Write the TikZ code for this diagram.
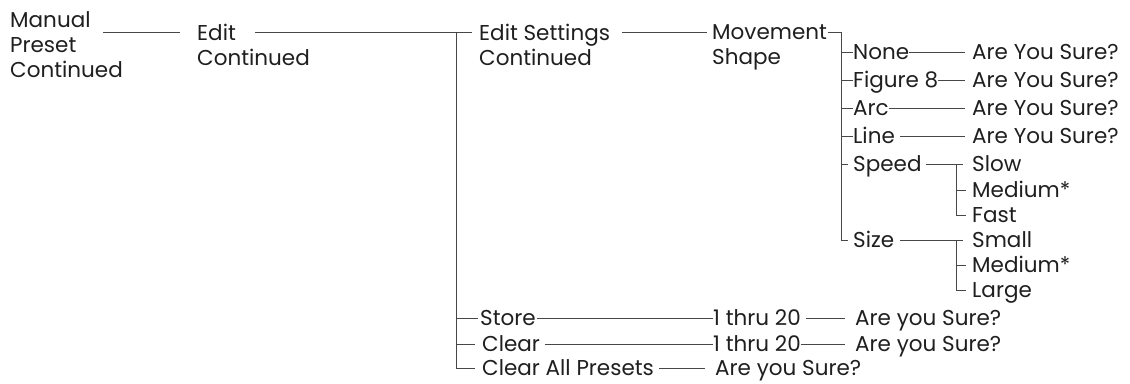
\documentclass[tikz,border=0pt]{standalone}
\usepackage{fontspec}
\setmainfont{Poppins}
\usetikzlibrary{positioning,calc}

\begin{document}
\begin{tikzpicture}[
		x=1pt, y=-1pt,
		menu_item/.style={inner sep=0pt, anchor=west, text height=15pt, text depth=0pt,
			font=\fontsize{21.5}{25}\selectfont, text=black!88},
		menu_block/.style={inner sep=0pt, anchor=north west, align=left,
			font=\fontsize{21.5}{25}\selectfont, text=black!88},
		link/.style={draw=black!72, line width=1pt}
		]
		\useasboundingbox (0,0) rectangle (1130,383);
		
		% --- TOP LEVEL MENUS ---
		\node[menu_block] (manual) at (10,11) {Manual\\Preset\\Continued};
		\node[menu_block] (edit) at (197,24) {Edit\\Continued};
		\node[menu_block] (settings) at (479,24) {Edit Settings\\Continued};
		\node[menu_block] (movement) at (712,24) {Movement\\Shape};
		
		% --- MOVEMENT SHAPE OPTIONS ---
		\node[menu_item] (none) at (853,52) {None};
		\node[menu_item] (fig8) at (853,80) {Figure 8};
		\node[menu_item] (arc) at (853,108) {Arc};
		\node[menu_item] (line_opt) at (853,136) {Line};
		\node[menu_item] (speed) at (853,164) {Speed};
		\node[menu_item] (size) at (853,240) {Size};
		
		% Confirmations
		\node[menu_item] (sure_none) at (972,52) {Are You Sure?};
		\node[menu_item] (sure_fig8) at (972,80) {Are You Sure?};
		\node[menu_item] (sure_arc) at (972,108) {Are You Sure?};
		\node[menu_item] (sure_line) at (972,136) {Are You Sure?};
		
		% Speed and Size values
		\node[menu_item] (slow) at (972,164) {Slow};
		\node[menu_item] (speed_med) at (972,190) {Medium*};
		\node[menu_item] (fast) at (972,215) {Fast};
		\node[menu_item] (small) at (972,240) {Small};
		\node[menu_item] (size_med) at (972,265) {Medium*};
		\node[menu_item] (large) at (972,290) {Large};
		
		% --- PRESET SLOTS ---
		\node[menu_item] (store) at (480,318) {Store};
		\node[menu_item] (clear) at (482,344) {Clear};
		\node[menu_item] (clear_all) at (482,368) {Clear All Presets};
		
		\node[menu_item] (thru_store) at (713,318) {1 thru 20};
		\node[menu_item] (thru_clear) at (713,344) {1 thru 20};
		
		\node[menu_item] (sure_store) at (855,318) {Are you Sure?};
		\node[menu_item] (sure_clear) at (855,344) {Are you Sure?};
		\node[menu_item] (sure_all) at (715,368) {Are you Sure?};
		
		
		% --- CONNECTIONS ---
		% 1. Manual to Edit, Edit to the main trunk
		\draw[link] ([xshift=-20pt,yshift=-8pt]manual.east |- edit.north) -- ([xshift=-17pt,yshift=-8pt]edit.north west);
		\draw[link] ([xshift=58pt,yshift=-8pt]edit.north west) -- ([xshift=-7pt,yshift=-8pt]settings.north west);
		
		\coordinate (trunk) at ([xshift=-23pt,yshift=-8pt]settings.north west);
		\draw[link] (trunk) |- ([xshift=-7pt]clear_all.west);
		\draw[link] (trunk |- store.west) -- ([xshift=-2pt]store.west);
		\draw[link] (trunk |- clear.west) -- ([xshift=-7pt]clear.west);
		
		% 2. Edit Settings to Movement Shape
		\draw[link] ([xshift=12pt,yshift=-8pt]settings.north east) -- ([xshift=-5pt,yshift=-8pt]movement.north west);
		
		% 3. Movement Shape bus
		\coordinate (shape_bus) at ([xshift=-12pt]none.west);
		\draw[link] ([xshift=1pt,yshift=-8pt]movement.north east) -| (shape_bus |- size.west) -- ([xshift=-5pt]size.west);
		\draw[link] (shape_bus |- none.west) -- (none.west);
		\draw[link] (shape_bus |- fig8.west) -- (fig8.west);
		\draw[link] (shape_bus |- arc.west) -- (arc.west);
		\draw[link] (shape_bus |- line_opt.west) -- (line_opt.west);
		\draw[link] (shape_bus |- speed.west) -- ([xshift=-5pt]speed.west);
		
		% 4. Options to confirmations
		\draw[link] (none.east) -- ([xshift=-7pt]sure_none.west);
		\draw[link] (fig8.east) -- ([xshift=-7pt]sure_fig8.west);
		\draw[link] (arc.east) -- ([xshift=-7pt]sure_arc.west);
		\draw[link] ([xshift=5pt]line_opt.east) -- ([xshift=-7pt]sure_line.west);
		
		% 5. Speed values
		\coordinate (speed_bus) at ([xshift=-16pt]slow.west);
		\draw[link] ([xshift=4pt]speed.east) -- ([xshift=-9pt]slow.west);
		\draw[link] (speed_bus) |- ([xshift=-6pt]fast.west);
		\draw[link] (speed_bus |- speed_med.west) -- ([xshift=-6pt]speed_med.west);
		
		% 6. Size values
		\coordinate (size_bus) at ([xshift=-16pt]small.west);
		\draw[link] ([xshift=6pt]size.east) -- ([xshift=-9pt]small.west);
		\draw[link] (size_bus) |- ([xshift=-6pt]large.west);
		\draw[link] (size_bus |- size_med.west) -- ([xshift=-6pt]size_med.west);
		
		% 7. Store / Clear chains
		\draw[link] ([xshift=1pt]store.east) -- (thru_store.west);
		\draw[link] ([xshift=5pt]thru_store.east) -- ([xshift=-10pt]sure_store.west);
		\draw[link] ([xshift=5pt]clear.east) -- (thru_clear.west);
		\draw[link] (thru_clear.east) -- ([xshift=-10pt]sure_clear.west);
		\draw[link] ([xshift=5pt]clear_all.east) -- ([xshift=-10pt]sure_all.west);
		
	\end{tikzpicture}
\end{document}
